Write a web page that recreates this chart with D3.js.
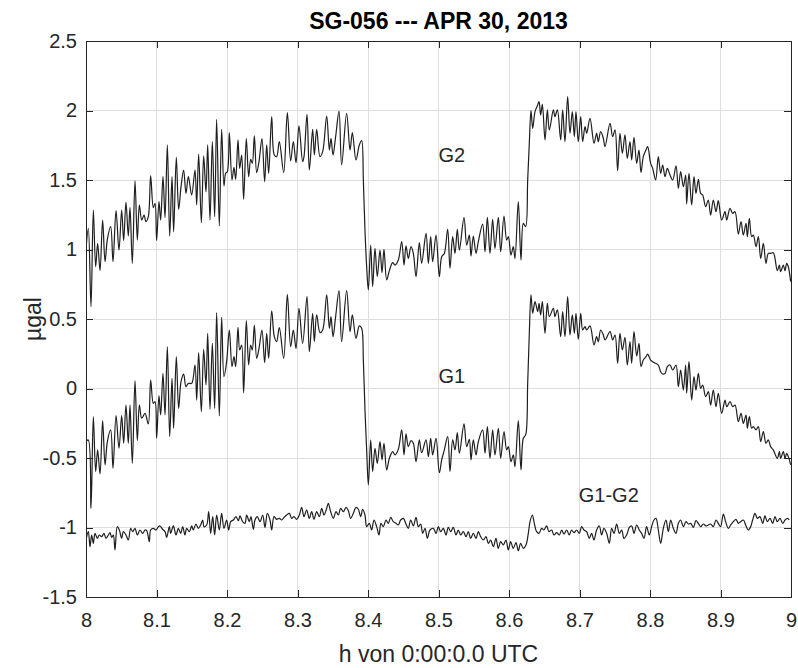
<!doctype html>
<html lang="en">
<head>
<meta charset="UTF-8" />
<title>SG-056 --- APR 30, 2013</title>
<script src="https://d3js.org/d3.v7.min.js"></script>
<style>
  body { margin: 0; background: #fff; }
  svg { display: block; font-family: 'Liberation Sans', Arial, Helvetica, sans-serif; }
  .grid line { stroke: #dedede; stroke-width: 1px; shape-rendering: crispEdges; }
  .trace { fill: none; stroke: #1e1e1e; stroke-width: 1.2px; stroke-linejoin: round; }
  .axis line { stroke: #262626; shape-rendering: crispEdges; }
  .axis text { fill: #262626; font-size: 20px; }
</style>
</head>
<body>
<svg width="798" height="668"></svg>
<script>
// tick values
const xTicks = [8, 8.1, 8.2, 8.3, 8.4, 8.5, 8.6, 8.7, 8.8, 8.9, 9];
const yTicks = [-1.5, -1, -0.5, 0, 0.5, 1, 1.5, 2, 2.5];

// [hour, µgal]
const seriesG2 = [
  [8.0000,1.00],[8.0033,1.152],[8.0071,0.588],[8.0104,1.284],[8.0137,0.876],[8.0165,1.044],[8.0199,0.848],[8.0236,1.212],
  [8.0270,0.912],[8.0303,1.073],[8.0350,1.164],[8.0383,0.912],[8.0426,1.279],[8.0468,0.996],[8.0506,1.284],[8.0534,1.064],
  [8.0567,1.339],[8.0600,1.097],[8.0624,1.303],[8.0657,0.900],[8.0695,1.495],[8.0728,1.068],[8.0757,1.320],[8.0790,1.212],
  [8.0823,1.248],[8.0851,1.200],[8.0884,1.236],[8.0917,1.531],[8.0955,1.301],[8.0979,1.332],[8.1002,1.064],[8.1035,1.344],
  [8.1059,1.212],[8.1092,1.524],[8.1121,1.229],[8.1154,1.752],[8.1187,1.097],[8.1220,1.524],[8.1243,1.128],[8.1281,1.663],
  [8.1314,1.289],[8.1348,1.452],[8.1385,1.572],[8.1418,1.404],[8.1452,1.524],[8.1499,1.392],[8.1546,1.572],[8.1570,1.320],
  [8.1598,1.687],[8.1636,1.193],[8.1669,1.673],[8.1702,1.414],[8.1726,1.752],[8.1759,1.212],[8.1792,1.776],[8.1825,1.236],
  [8.1853,1.937],[8.1891,1.169],[8.1924,1.865],[8.1957,1.457],[8.1981,1.548],[8.2005,1.560],[8.2033,1.841],[8.2071,1.500],
  [8.2099,1.591],[8.2123,1.505],[8.2156,1.788],[8.2180,1.584],[8.2208,1.680],[8.2236,1.361],[8.2274,1.797],[8.2307,1.524],
  [8.2336,1.649],[8.2359,1.620],[8.2388,1.817],[8.2421,1.553],[8.2454,1.632],[8.2496,1.797],[8.2534,1.488],[8.2563,1.752],
  [8.2591,1.548],[8.2634,1.956],[8.2671,1.680],[8.2704,1.668],[8.2742,1.776],[8.2804,1.553],[8.2856,1.984],[8.2903,1.637],
  [8.2941,1.776],[8.2979,1.625],[8.3021,1.889],[8.3073,1.632],[8.3092,1.668],[8.3135,1.972],[8.3168,1.572],[8.3215,1.865],
  [8.3239,1.680],[8.3272,1.865],[8.3319,1.668],[8.3357,1.704],[8.3414,1.960],[8.3452,1.716],[8.3475,1.800],[8.3504,1.680],
  [8.3541,1.812],[8.3589,1.996],[8.3626,1.608],[8.3697,1.980],[8.3745,1.716],[8.3778,1.841],[8.3830,1.644],[8.3877,1.752],
  [8.3910,1.783],[8.3934,1.500],[8.3957,1.140],[8.3981,0.876],[8.4005,0.709],[8.4038,1.032],[8.4066,0.733],[8.4099,1.008],
  [8.4132,0.805],[8.4170,0.996],[8.4199,0.833],[8.4227,1.001],[8.4265,0.781],[8.4303,0.848],[8.4350,0.905],[8.4383,0.888],
  [8.4430,0.924],[8.4478,1.056],[8.4511,0.888],[8.4539,1.027],[8.4572,0.936],[8.4610,1.020],[8.4643,0.972],[8.4681,0.805],
  [8.4728,1.049],[8.4761,0.900],[8.4823,1.116],[8.4856,0.900],[8.4889,1.092],[8.4917,0.912],[8.4965,1.104],[8.5012,0.805],
  [8.5045,0.948],[8.5083,0.972],[8.5130,1.145],[8.5163,0.864],[8.5201,1.092],[8.5234,0.972],[8.5267,1.145],[8.5296,0.996],
  [8.5362,1.231],[8.5400,1.032],[8.5437,1.104],[8.5461,0.953],[8.5494,1.097],[8.5532,0.972],[8.5565,1.056],[8.5626,1.183],
  [8.5660,0.984],[8.5693,1.231],[8.5730,0.972],[8.5768,1.217],[8.5801,1.008],[8.5849,1.231],[8.5882,0.984],[8.5929,1.241],
  [8.5967,1.068],[8.5991,1.092],[8.6028,0.960],[8.6061,1.020],[8.6085,0.936],[8.6132,1.344],[8.6170,0.924],[8.6203,1.188],
  [8.6236,1.164],[8.6265,1.500],[8.6288,1.764],[8.6312,1.999],[8.6336,1.872],[8.6369,1.992],[8.6407,2.040],[8.6426,2.064],
  [8.6449,1.968],[8.6473,2.044],[8.6511,1.788],[8.6544,2.004],[8.6572,1.860],[8.6629,2.004],[8.6652,1.956],[8.6686,2.004],
  [8.6733,1.788],[8.6761,2.004],[8.6794,1.776],[8.6832,2.100],[8.6865,1.836],[8.6898,1.992],[8.6927,1.812],[8.6950,1.992],
  [8.6983,1.776],[8.7017,1.956],[8.7045,1.776],[8.7078,1.884],[8.7102,1.836],[8.7149,1.944],[8.7206,1.764],[8.7243,1.836],
  [8.7267,1.776],[8.7300,1.848],[8.7338,1.800],[8.7362,1.740],[8.7433,1.908],[8.7470,1.812],[8.7504,1.860],[8.7541,1.567],
  [8.7574,1.836],[8.7608,1.692],[8.7645,1.824],[8.7678,1.656],[8.7716,1.776],[8.7740,1.644],[8.7773,1.807],[8.7811,1.620],
  [8.7844,1.716],[8.7872,1.553],[8.7905,1.668],[8.7943,1.716],[8.7967,1.740],[8.8009,1.620],[8.8038,1.584],[8.8080,1.500],
  [8.8118,1.668],[8.8151,1.548],[8.8180,1.608],[8.8213,1.524],[8.8246,1.584],[8.8284,1.536],[8.8322,1.500],[8.8369,1.601],
  [8.8402,1.440],[8.8435,1.560],[8.8473,1.452],[8.8506,1.536],[8.8520,1.327],[8.8553,1.548],[8.8591,1.320],[8.8624,1.524],
  [8.8652,1.404],[8.8686,1.505],[8.8719,1.404],[8.8747,1.392],[8.8790,1.308],[8.8827,1.356],[8.8860,1.248],[8.8898,1.356],
  [8.8936,1.272],[8.8969,1.351],[8.9017,1.212],[8.9064,1.272],[8.9088,1.212],[8.9135,1.296],[8.9173,1.260],[8.9206,1.272],
  [8.9253,1.111],[8.9291,1.200],[8.9324,1.104],[8.9362,1.188],[8.9381,1.092],[8.9409,1.224],[8.9442,1.092],[8.9466,1.104],
  [8.9504,1.020],[8.9537,1.092],[8.9570,0.936],[8.9608,1.044],[8.9645,0.900],[8.9678,0.972],[8.9711,0.972],[8.9749,0.977],
  [8.9806,0.848],[8.9835,0.888],[8.9853,0.840],[8.9891,0.888],[8.9915,0.848],[8.9939,0.900],[8.9962,0.876],[8.9995,0.769]
];

const seriesG1 = [
  [8.0000,-0.382],[8.0033,-0.370],[8.0071,-0.862],[8.0104,-0.203],[8.0137,-0.598],[8.0165,-0.442],[8.0199,-0.615],[8.0236,-0.231],
  [8.0270,-0.550],[8.0303,-0.382],[8.0350,-0.298],[8.0383,-0.574],[8.0426,-0.195],[8.0468,-0.430],[8.0506,-0.195],[8.0534,-0.394],
  [8.0567,-0.119],[8.0600,-0.394],[8.0624,-0.119],[8.0657,-0.538],[8.0695,0.056],[8.0728,-0.375],[8.0757,-0.119],[8.0790,-0.214],
  [8.0837,-0.179],[8.0884,-0.255],[8.0917,0.061],[8.0955,-0.107],[8.0979,-0.095],[8.1002,-0.358],[8.1035,-0.051],[8.1059,-0.190],
  [8.1092,0.109],[8.1121,-0.190],[8.1154,0.301],[8.1187,-0.346],[8.1220,0.073],[8.1243,-0.286],[8.1281,0.229],[8.1314,-0.143],
  [8.1348,0.049],[8.1385,0.104],[8.1418,0.013],[8.1452,0.037],[8.1499,0.037],[8.1546,0.169],[8.1570,-0.083],[8.1598,0.258],
  [8.1636,-0.167],[8.1669,0.282],[8.1702,0.025],[8.1726,0.397],[8.1759,-0.150],[8.1792,0.325],[8.1825,-0.143],[8.1853,0.546],
  [8.1891,-0.198],[8.1924,0.512],[8.1957,0.085],[8.1995,0.193],[8.2033,0.421],[8.2071,0.157],[8.2099,0.229],[8.2123,0.157],
  [8.2156,0.440],[8.2180,0.277],[8.2208,0.313],[8.2236,-0.030],[8.2274,0.488],[8.2307,0.169],[8.2336,0.313],[8.2359,0.277],
  [8.2388,0.457],[8.2421,0.217],[8.2454,0.289],[8.2496,0.421],[8.2534,0.186],[8.2563,0.397],[8.2591,0.217],[8.2634,0.558],
  [8.2671,0.373],[8.2704,0.337],[8.2742,0.438],[8.2804,0.217],[8.2856,0.677],[8.2903,0.301],[8.2941,0.421],[8.2979,0.289],
  [8.3021,0.577],[8.3073,0.325],[8.3135,0.661],[8.3168,0.265],[8.3215,0.541],[8.3239,0.337],[8.3272,0.529],[8.3319,0.402],
  [8.3357,0.421],[8.3414,0.673],[8.3452,0.433],[8.3475,0.517],[8.3504,0.373],[8.3541,0.517],[8.3589,0.704],[8.3626,0.337],
  [8.3697,0.704],[8.3745,0.409],[8.3778,0.529],[8.3830,0.361],[8.3877,0.450],[8.3910,0.433],[8.3934,0.205],[8.3957,-0.154],
  [8.3981,-0.442],[8.4005,-0.694],[8.4038,-0.370],[8.4066,-0.598],[8.4099,-0.430],[8.4132,-0.538],[8.4170,-0.382],[8.4199,-0.514],
  [8.4227,-0.394],[8.4265,-0.586],[8.4303,-0.502],[8.4350,-0.454],[8.4383,-0.478],[8.4430,-0.438],[8.4478,-0.298],[8.4511,-0.478],
  [8.4539,-0.327],[8.4572,-0.418],[8.4610,-0.375],[8.4643,-0.394],[8.4681,-0.526],[8.4728,-0.370],[8.4761,-0.462],[8.4823,-0.370],
  [8.4856,-0.490],[8.4889,-0.358],[8.4917,-0.478],[8.4965,-0.358],[8.5012,-0.606],[8.5045,-0.514],[8.5083,-0.442],[8.5130,-0.346],
  [8.5163,-0.598],[8.5201,-0.370],[8.5234,-0.442],[8.5267,-0.318],[8.5296,-0.466],[8.5362,-0.255],[8.5400,-0.418],[8.5437,-0.366],
  [8.5461,-0.514],[8.5494,-0.370],[8.5532,-0.478],[8.5565,-0.382],[8.5626,-0.298],[8.5660,-0.466],[8.5693,-0.274],[8.5730,-0.502],
  [8.5768,-0.298],[8.5801,-0.478],[8.5849,-0.286],[8.5882,-0.502],[8.5929,-0.310],[8.5967,-0.442],[8.5991,-0.418],[8.6028,-0.526],
  [8.6061,-0.478],[8.6085,-0.562],[8.6132,-0.231],[8.6170,-0.586],[8.6203,-0.358],[8.6236,-0.334],[8.6265,0.037],[8.6288,0.397],
  [8.6312,0.673],[8.6336,0.541],[8.6369,0.625],[8.6407,0.553],[8.6426,0.613],[8.6449,0.529],[8.6473,0.625],[8.6511,0.397],
  [8.6544,0.613],[8.6572,0.517],[8.6629,0.577],[8.6652,0.517],[8.6686,0.565],[8.6733,0.373],[8.6761,0.553],[8.6794,0.373],
  [8.6832,0.661],[8.6865,0.385],[8.6898,0.529],[8.6927,0.397],[8.6950,0.541],[8.6983,0.354],[8.7017,0.541],[8.7045,0.421],
  [8.7078,0.445],[8.7102,0.421],[8.7149,0.450],[8.7206,0.313],[8.7243,0.373],[8.7267,0.337],[8.7300,0.421],[8.7338,0.385],
  [8.7362,0.349],[8.7433,0.409],[8.7470,0.349],[8.7504,0.385],[8.7541,0.181],[8.7574,0.397],[8.7608,0.277],[8.7645,0.368],
  [8.7678,0.169],[8.7716,0.337],[8.7740,0.181],[8.7773,0.409],[8.7811,0.234],[8.7844,0.325],[8.7872,0.157],[8.7905,0.205],
  [8.7943,0.229],[8.7967,0.248],[8.8009,0.205],[8.8038,0.193],[8.8080,0.181],[8.8118,0.169],[8.8151,0.121],[8.8180,0.104],
  [8.8213,0.109],[8.8246,0.157],[8.8284,0.169],[8.8322,0.133],[8.8369,0.169],[8.8402,0.013],[8.8435,0.133],[8.8473,-0.011],
  [8.8506,0.169],[8.8520,-0.035],[8.8553,0.193],[8.8591,-0.083],[8.8624,0.085],[8.8652,-0.011],[8.8686,0.109],[8.8719,0.001],
  [8.8747,0.025],[8.8790,-0.059],[8.8827,-0.023],[8.8860,-0.119],[8.8898,-0.011],[8.8936,-0.131],[8.8969,-0.035],[8.9017,-0.179],
  [8.9064,-0.083],[8.9088,-0.131],[8.9135,-0.095],[8.9173,-0.131],[8.9206,-0.119],[8.9253,-0.239],[8.9291,-0.179],[8.9324,-0.251],
  [8.9362,-0.191],[8.9381,-0.286],[8.9409,-0.203],[8.9442,-0.286],[8.9466,-0.274],[8.9504,-0.298],[8.9537,-0.274],[8.9570,-0.382],
  [8.9608,-0.310],[8.9645,-0.394],[8.9678,-0.370],[8.9711,-0.418],[8.9749,-0.442],[8.9806,-0.502],[8.9835,-0.454],[8.9853,-0.502],
  [8.9891,-0.454],[8.9915,-0.502],[8.9939,-0.466],[8.9962,-0.490],[8.9995,-0.550]
];

const seriesDiff = [
  [8.0000,-1.090],[8.0033,-1.030],[8.0057,-1.138],[8.0080,-1.054],[8.0104,-1.114],[8.0128,-1.042],[8.0161,-1.078],[8.0189,-1.054],
  [8.0222,-1.066],[8.0255,-1.042],[8.0284,-1.078],[8.0317,-1.054],[8.0340,-1.037],[8.0364,-1.071],[8.0388,-1.054],[8.0411,-1.162],
  [8.0444,-0.994],[8.0473,-1.018],[8.0506,-1.078],[8.0530,-1.030],[8.0567,-1.054],[8.0600,-1.090],[8.0634,-1.006],[8.0662,-1.030],
  [8.0695,-1.006],[8.0728,-1.054],[8.0766,-1.018],[8.0804,-1.042],[8.0837,-1.018],[8.0861,-1.023],[8.0898,-1.102],[8.0917,-1.018],
  [8.0955,-1.006],[8.0993,-1.018],[8.1026,-0.994],[8.1050,-0.989],[8.1087,-1.013],[8.1121,-1.030],[8.1144,-1.071],[8.1182,-0.994],
  [8.1201,-1.042],[8.1239,-0.989],[8.1277,-1.054],[8.1310,-1.006],[8.1343,-1.042],[8.1371,-0.994],[8.1404,-1.054],[8.1428,-1.006],
  [8.1466,-1.030],[8.1499,-0.989],[8.1522,-1.018],[8.1560,-0.975],[8.1593,-1.006],[8.1626,-0.982],[8.1655,-0.946],[8.1674,-0.994],
  [8.1712,-0.982],[8.1740,-0.886],[8.1768,-1.042],[8.1797,-0.922],[8.1825,-1.054],[8.1853,-0.910],[8.1891,-1.018],[8.1924,-0.898],
  [8.1957,-1.006],[8.1995,-0.946],[8.2024,-1.018],[8.2052,-0.958],[8.2090,-0.946],[8.2128,-0.922],[8.2161,-0.951],[8.2184,-0.917],
  [8.2222,-0.958],[8.2255,-0.970],[8.2279,-0.910],[8.2317,-0.958],[8.2340,-0.922],[8.2374,-1.013],[8.2397,-0.946],[8.2430,-0.922],
  [8.2468,-0.958],[8.2506,-0.910],[8.2539,-0.999],[8.2572,-0.898],[8.2610,-0.946],[8.2634,-1.018],[8.2667,-0.922],[8.2704,-0.941],
  [8.2742,-0.934],[8.2775,-0.946],[8.2809,-0.927],[8.2846,-0.910],[8.2884,-0.898],[8.2917,-0.934],[8.2950,-0.922],[8.2988,-0.941],
  [8.3026,-0.910],[8.3059,-0.855],[8.3092,-0.922],[8.3130,-0.874],[8.3168,-0.934],[8.3201,-0.886],[8.3234,-0.941],[8.3272,-0.886],
  [8.3310,-0.922],[8.3343,-0.862],[8.3376,-0.910],[8.3414,-0.862],[8.3437,-0.826],[8.3470,-0.886],[8.3508,-0.934],[8.3546,-0.886],
  [8.3579,-0.910],[8.3612,-0.862],[8.3650,-0.886],[8.3688,-0.855],[8.3721,-0.879],[8.3754,-0.934],[8.3792,-0.898],[8.3830,-0.855],
  [8.3863,-0.869],[8.3896,-0.922],[8.3924,-0.869],[8.3957,-0.910],[8.3981,-0.994],[8.4019,-0.970],[8.4052,-1.018],[8.4085,-0.946],
  [8.4123,-0.994],[8.4156,-1.054],[8.4184,-0.970],[8.4217,-0.994],[8.4255,-0.946],[8.4288,-0.970],[8.4322,-0.927],[8.4359,-0.958],
  [8.4397,-0.970],[8.4430,-0.982],[8.4463,-0.946],[8.4501,-0.934],[8.4539,-0.975],[8.4572,-1.006],[8.4605,-0.946],[8.4643,-0.989],
  [8.4681,-0.927],[8.4714,-0.994],[8.4747,-0.975],[8.4775,-1.042],[8.4809,-1.006],[8.4842,-1.078],[8.4879,-1.018],[8.4927,-1.006],
  [8.4965,-1.042],[8.4998,-0.994],[8.5031,-1.030],[8.5069,-1.006],[8.5106,-1.054],[8.5139,-0.999],[8.5173,-1.030],[8.5210,-0.999],
  [8.5248,-1.054],[8.5281,-1.018],[8.5314,-1.054],[8.5352,-1.030],[8.5390,-1.066],[8.5423,-1.030],[8.5456,-1.078],[8.5494,-1.042],
  [8.5532,-1.078],[8.5565,-1.030],[8.5598,-1.066],[8.5636,-1.090],[8.5674,-1.066],[8.5707,-1.114],[8.5740,-1.090],[8.5778,-1.138],
  [8.5815,-1.078],[8.5848,-1.150],[8.5882,-1.102],[8.5919,-1.126],[8.5957,-1.090],[8.5990,-1.162],[8.6023,-1.102],[8.6061,-1.150],
  [8.6099,-1.109],[8.6132,-1.167],[8.6165,-1.114],[8.6203,-1.150],[8.6241,-1.126],[8.6274,-1.042],[8.6298,-0.958],[8.6331,-0.910],
  [8.6359,-0.970],[8.6392,-1.030],[8.6425,-1.042],[8.6463,-1.006],[8.6496,-1.018],[8.6534,-0.989],[8.6567,-1.030],[8.6605,-1.018],
  [8.6638,-1.054],[8.6676,-1.037],[8.6713,-1.054],[8.6747,-1.018],[8.6780,-1.047],[8.6818,-1.018],[8.6855,-1.054],[8.6888,-1.018],
  [8.6922,-1.037],[8.6959,-1.018],[8.6997,-1.042],[8.7030,-0.994],[8.7063,-1.018],[8.7101,-1.030],[8.7139,-1.078],[8.7172,-1.042],
  [8.7205,-1.090],[8.7243,-1.018],[8.7281,-0.989],[8.7314,-1.054],[8.7347,-1.006],[8.7385,-1.042],[8.7423,-1.114],[8.7456,-1.006],
  [8.7489,-1.042],[8.7527,-0.975],[8.7565,-1.042],[8.7598,-1.018],[8.7631,-1.078],[8.7669,-1.054],[8.7707,-0.999],[8.7740,-0.989],
  [8.7773,-1.042],[8.7811,-0.982],[8.7848,-1.018],[8.7881,-1.042],[8.7915,-1.078],[8.7952,-0.994],[8.7990,-1.054],[8.8023,-0.994],
  [8.8056,-0.946],[8.8085,-0.934],[8.8118,-1.018],[8.8151,-1.114],[8.8189,-1.006],[8.8227,-0.946],[8.8260,-1.030],[8.8293,-0.946],
  [8.8331,-1.006],[8.8369,-1.042],[8.8402,-0.970],[8.8435,-0.946],[8.8473,-0.994],[8.8511,-0.958],[8.8544,-0.975],[8.8577,-0.970],
  [8.8615,-0.999],[8.8652,-0.951],[8.8685,-0.970],[8.8719,-0.994],[8.8756,-0.975],[8.8794,-0.989],[8.8827,-0.982],[8.8860,-0.975],
  [8.8898,-0.994],[8.8936,-0.946],[8.8969,-0.970],[8.9002,-0.994],[8.9040,-0.903],[8.9073,-0.958],[8.9111,-1.006],[8.9144,-0.982],
  [8.9182,-0.958],[8.9220,-0.941],[8.9253,-0.970],[8.9286,-0.958],[8.9324,-0.946],[8.9362,-0.989],[8.9395,-1.018],[8.9428,-0.994],
  [8.9456,-0.946],[8.9489,-0.898],[8.9522,-0.934],[8.9560,-0.922],[8.9598,-0.970],[8.9631,-0.917],[8.9664,-0.958],[8.9702,-0.934],
  [8.9740,-0.970],[8.9773,-0.922],[8.9806,-0.958],[8.9844,-0.934],[8.9882,-0.970],[8.9915,-0.946],[8.9948,-0.934],[8.9976,-0.946]
];

const traceNames = ['G2', 'G1', 'G1-G2'];

const width = 798;
const height = 668;
const margin = { top: 41, right: 7, bottom: 71, left: 86 };
const svg = d3.select('svg');

const x = d3.scaleLinear().domain([8, 9]).range([margin.left, width - margin.right]);
const y = d3.scaleLinear().domain([-1.5, 2.5]).range([height - margin.bottom, margin.top]);
const fmt = (d) => String(d);

// grid
const grid = svg.append('g').attr('class', 'grid');
grid.selectAll('.vx')
  .data(xTicks.slice(1, -1))
  .enter().append('line')
  .attr('x1', (d) => x(d)).attr('x2', (d) => x(d))
  .attr('y1', y(2.5)).attr('y2', y(-1.5));
grid.selectAll('.hy')
  .data(yTicks.slice(1, -1))
  .enter().append('line')
  .attr('x1', x(8)).attr('x2', x(9))
  .attr('y1', (d) => y(d)).attr('y2', (d) => y(d));

// traces
svg.append('clipPath').attr('id', 'plot-clip')
  .append('rect')
  .attr('x', x(8)).attr('y', y(2.5))
  .attr('width', x(9) - x(8)).attr('height', y(-1.5) - y(2.5));

const line = d3.line()
  .curve(d3.curveCatmullRom.alpha(0.5))
  .x((d) => x(d[0]))
  .y((d) => y(d[1]));
svg.append('g').attr('clip-path', 'url(#plot-clip)')
  .selectAll('path')
  .data([seriesG2, seriesG1, seriesDiff])
  .enter().append('path')
  .attr('class', 'trace')
  .attr('d', line);

// axes (ticks inside, box on)
const tickLen = 7;
svg.append('g').attr('class', 'axis')
  .attr('transform', `translate(0,${y(-1.5)})`)
  .call(d3.axisBottom(x).tickValues(xTicks).tickFormat(fmt).tickSize(-tickLen).tickPadding(16))
  .call((g) => g.select('.domain').remove());
svg.append('g').attr('class', 'axis')
  .attr('transform', `translate(0,${y(2.5)})`)
  .call(d3.axisTop(x).tickValues(xTicks).tickFormat('').tickSize(-tickLen))
  .call((g) => g.select('.domain').remove());
svg.append('g').attr('class', 'axis')
  .attr('transform', `translate(${x(8)},0)`)
  .call(d3.axisLeft(y).tickValues(yTicks).tickFormat(fmt).tickSize(-tickLen).tickPadding(9))
  .call((g) => g.select('.domain').remove());
svg.append('g').attr('class', 'axis')
  .attr('transform', `translate(${x(9)},0)`)
  .call(d3.axisRight(y).tickValues(yTicks).tickFormat('').tickSize(-tickLen))
  .call((g) => g.select('.domain').remove());
svg.selectAll('.axis text').attr('font-family', null).attr('font-size', null);

svg.append('rect')
  .attr('x', x(8)).attr('y', y(2.5))
  .attr('width', x(9) - x(8)).attr('height', y(-1.5) - y(2.5))
  .attr('fill', 'none').attr('stroke', '#262626').attr('stroke-width', 1)
  .attr('shape-rendering', 'crispEdges');

// trace names
const namePos = [[8.5, 1.63], [8.5, 0.04], [8.699, -0.817]];
svg.selectAll('.name')
  .data(traceNames)
  .enter().append('text')
  .attr('class', 'name')
  .attr('x', (d, i) => x(namePos[i][0]))
  .attr('y', (d, i) => y(namePos[i][1]))
  .attr('fill', '#262626')
  .style('font-size', '20px')
  .text((d) => d);

// title and axis labels
svg.append('text')
  .attr('x', (x(8) + x(9)) / 2).attr('y', 29)
  .attr('text-anchor', 'middle')
  .attr('fill', '#000')
  .style('font-size', '23px').style('font-weight', 'bold')
  .text('SG-056 --- APR 30, 2013');

svg.append('text')
  .attr('x', (x(8) + x(9)) / 2).attr('y', 662)
  .attr('text-anchor', 'middle')
  .attr('fill', '#262626')
  .style('font-size', '23px')
  .text('h von 0:00:0.0 UTC');

svg.append('text')
  .attr('transform', `translate(41,${(y(2.5) + y(-1.5)) / 2}) rotate(-90)`)
  .attr('text-anchor', 'middle')
  .attr('fill', '#262626')
  .style('font-size', '23px')
  .text('µgal');
</script>
</body>
</html>
